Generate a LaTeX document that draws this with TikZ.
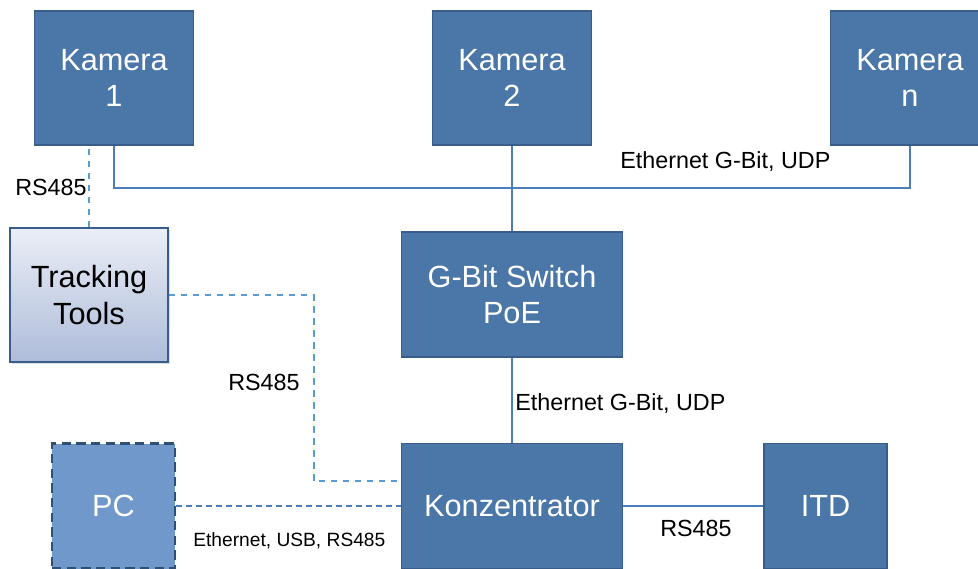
\documentclass[tikz,border=0pt]{standalone}
\usepackage{fontspec}
\setmainfont{Liberation Sans}
\usepackage{tikz}
\usetikzlibrary{positioning,calc,shadows}
\definecolor{camFill}{HTML}{4A77A8}
\definecolor{camEdge}{HTML}{385D8A}
\definecolor{pcFill}{HTML}{7198CB}
\definecolor{pcEdge}{HTML}{2F5075}
\definecolor{ttTop}{HTML}{EAEEF6}
\definecolor{ttBot}{HTML}{AEBCDA}
\definecolor{netLine}{HTML}{4A7EBB}
\definecolor{rsLine}{HTML}{5B9BD5}
\tikzset{
    devBase/.style={
        rectangle,
        draw=camEdge,
        line width=1.3pt,
        align=center,
        text=white,
        font=\fontsize{23}{27.5}\selectfont,
        inner sep=2pt
    },
    % device variants
    cam/.style={devBase, fill=camFill, minimum width=119.25pt, minimum height=100.5pt},
    hub/.style={devBase, fill=camFill, minimum width=165.75pt, minimum height=93.75pt},
    small/.style={devBase, fill=camFill, minimum width=92.25pt, minimum height=93.75pt},
    pcbox/.style={devBase, fill=pcFill, draw=pcEdge, line width=2.2pt, dash pattern=on 7pt off 4pt,
        minimum width=92.25pt, minimum height=93.75pt},
    tool/.style={devBase, draw=camEdge, line width=0.8pt, text=black, top color=ttTop, bottom color=ttBot,
        drop shadow={shadow xshift=1.5pt, shadow yshift=-1.5pt, opacity=0.25},
        minimum width=118.5pt, minimum height=100.5pt},
    % lines
    netLink/.style={draw=netLine, line width=1.5pt},
    rsLink/.style={draw=rsLine, line width=1.5pt, dash pattern=on 5pt off 4pt},
    pcLink/.style={draw=netLine, line width=1.5pt, dash pattern=on 4.5pt off 3pt},
    lbl/.style={font=\fontsize{17.5}{21}\selectfont, inner sep=0pt},
    lblSmall/.style={font=\fontsize{14.4}{17}\selectfont, inner sep=0pt}
}
\begin{document}
\begin{tikzpicture}[x=0.75pt, y=-0.75pt]
\useasboundingbox (0,0) rectangle (978,568);

\node[cam] (kam1) at (114,78) {Kamera\\1};
\node[cam] (kam2) at (512,78) {Kamera\\2};
\node[cam] (kamn) at (910,78) {Kamera\\n};
\node[tool] (tools) at (89,295) {Tracking\\Tools};
\node[hub] (switch) at (512,294.5) {G-Bit Switch\\PoE};
\node[hub] (konz) at (512,506) {Konzentrator};
\node[pcbox] (pc) at (113.5,506) {PC};
\node[small] (itd) at (825.5,506) {ITD};

\draw[netLink] (kam1.south) -- ++(0,42) -| (kamn.south);
\draw[netLink] (kam2.south) -- (switch.north);
\draw[netLink] (switch.south) -- (konz.north);
\draw[netLink] (konz.east) -- (itd.west);
\draw[rsLink] (tools.north) -- (tools.north |- kam1.south);
\draw[rsLink] (tools.east) -- ++(145,0) |- ($(konz.west)+(0,-25)$);
\draw[pcLink] (pc.east) -- (konz.west);

\node[lbl, anchor=west] (lblBus) at (620,162) {Ethernet G-Bit, UDP};
\node[lbl, anchor=west] (lblUp) at (515,404) {Ethernet G-Bit, UDP};
\node[lbl, anchor=west] (lblCam) at (15,187) {RS485};
\node[lbl, anchor=west] (lblTool) at (228,382) {RS485};
\node[lbl, anchor=west] (lblItd) at (660,528) {RS485};
\node[lblSmall, anchor=west] (lblPc) at (193,541) {Ethernet, USB, RS485};
\end{tikzpicture}
\end{document}
